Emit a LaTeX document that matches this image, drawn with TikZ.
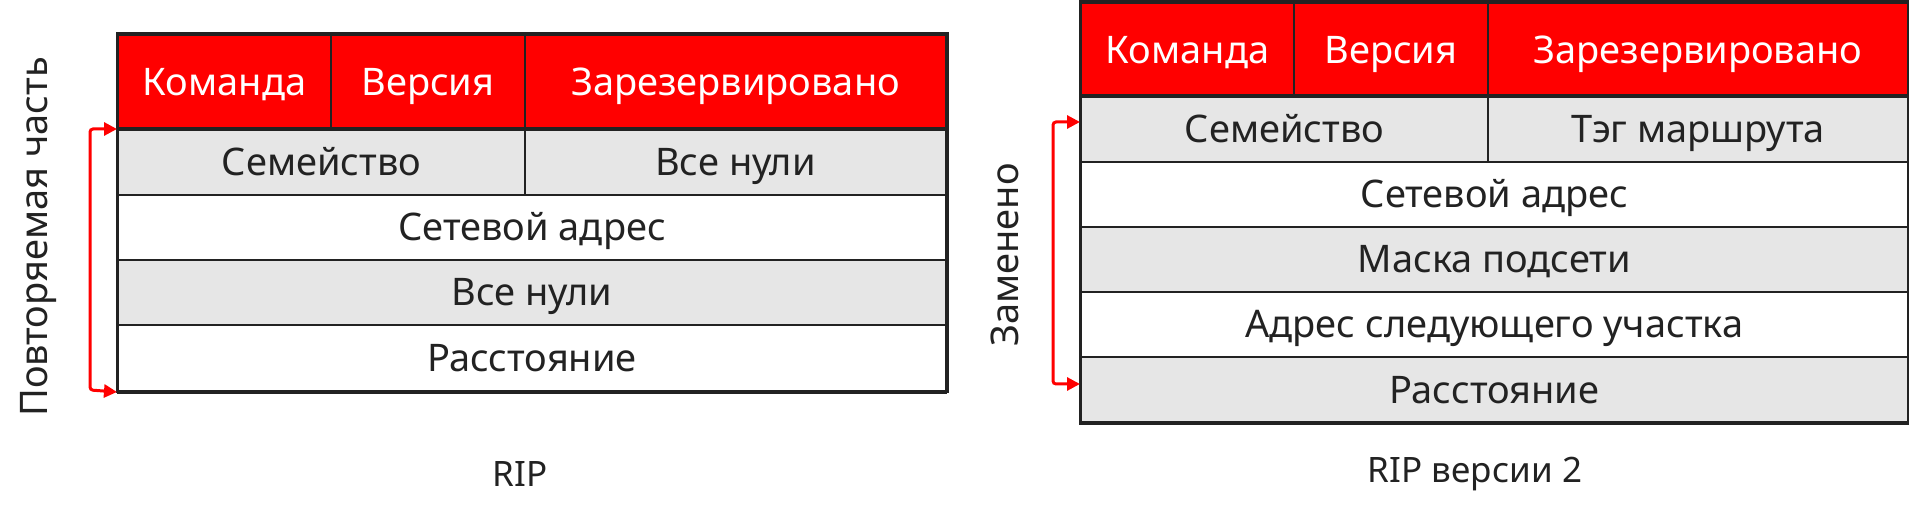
\documentclass[tikz,border=0pt]{standalone}
\usepackage{fontspec}
\setmainfont{Noto Sans}
\usetikzlibrary{arrows.meta}
\definecolor{hdr}{HTML}{FF0000}
\definecolor{rowgray}{HTML}{E6E6E6}
\definecolor{ink}{HTML}{222222}
\begin{document}
\begin{tikzpicture}[x=1pt,y=-1pt,
  cell/.style={draw=ink, line width=2pt, inner sep=0pt, anchor=north west,
    font=\fontsize{38}{40}\selectfont, text=ink, text height=27pt, text depth=0pt},
  hcell/.style={cell, fill=hdr, text=white},
  gcell/.style={cell, fill=rowgray},
  wcell/.style={cell, fill=white},
  frame/.style={draw=ink, line width=3pt},
  brk/.style={draw=red, line width=3pt, rounded corners=3pt,
    {Triangle[length=13pt,width=13pt]}-{Triangle[length=13pt,width=13pt]}},
  side/.style={font=\fontsize{38}{40}\selectfont, text=ink, rotate=90},
  caption/.style={font=\fontsize{35}{38}\selectfont, text=ink}]
\useasboundingbox (0,0) rectangle (1909,518);
% ---------- RIP ----------
\node[hcell, minimum width=213pt, minimum height=95pt] (a1) at (117,34) {Команда};
\node[hcell, minimum width=194pt, minimum height=95pt] (a2) at (330,34) {Версия};
\node[hcell, minimum width=421pt, minimum height=95pt] (a3) at (524,34) {Зарезервировано};
\node[gcell, minimum width=407pt, minimum height=65pt] (a4) at (117,129) {Семейство};
\node[gcell, minimum width=421pt, minimum height=65pt] (a5) at (524,129) {Все нули};
\node[wcell, minimum width=828pt, minimum height=65pt] (a6) at (117,194) {Сетевой адрес};
\node[gcell, minimum width=828pt, minimum height=65pt] (a7) at (117,259) {Все нули};
\node[wcell, minimum width=828pt, minimum height=66pt] (a8) at (117,324) {Расстояние};
\draw[frame] (a1.north west) rectangle (a8.south east);
\draw[draw=ink, line width=4pt] (a4.north west) -- (a5.north east);
\draw[draw=ink, line width=4pt] (a8.south west) -- (a8.south east);
\coordinate (lt) at (a4.north west);
\coordinate (lb) at (a8.south west);
\draw[brk] (lt) -- (90,129) -- (90,390) -- (lb);
\node[side] (s1) at (38,237) {Повторяемая часть};
\node[caption] (c1) at (520,474) {RIP};
% ---------- RIP v2 ----------
\node[hcell, minimum width=213pt, minimum height=94pt] (b1) at (1080,2) {Команда};
\node[hcell, minimum width=194pt, minimum height=94pt] (b2) at (1293,2) {Версия};
\node[hcell, minimum width=420pt, minimum height=94pt] (b3) at (1487,2) {Зарезервировано};
\node[gcell, minimum width=407pt, minimum height=65pt] (b4) at (1080,96) {Семейство};
\node[gcell, minimum width=420pt, minimum height=65pt] (b5) at (1487,96) {Тэг маршрута};
\node[wcell, minimum width=827pt, minimum height=65pt] (b6) at (1080,161) {Сетевой адрес};
\node[gcell, minimum width=827pt, minimum height=65pt] (b7) at (1080,226) {Маска подсети};
\node[wcell, minimum width=827pt, minimum height=65pt] (b8) at (1080,291) {Адрес следующего участка};
\node[gcell, minimum width=827pt, minimum height=65pt] (b9) at (1080,356) {Расстояние};
\draw[frame] (b1.north west) rectangle (b9.south east);
\draw[draw=ink, line width=4pt] (b4.north west) -- (b5.north east);
\draw[draw=ink, line width=4pt] (b9.south west) -- (b9.south east);
\coordinate (rt) at (1080,122);
\coordinate (rb) at (1080,384);
\draw[brk] (rt) -- (1053,122) -- (1053,384) -- (rb);
\node[side] (s2) at (1005,255) {Заменено};
\node[caption] (c2) at (1475,474) {RIP версии 2};
\end{tikzpicture}
\end{document}
